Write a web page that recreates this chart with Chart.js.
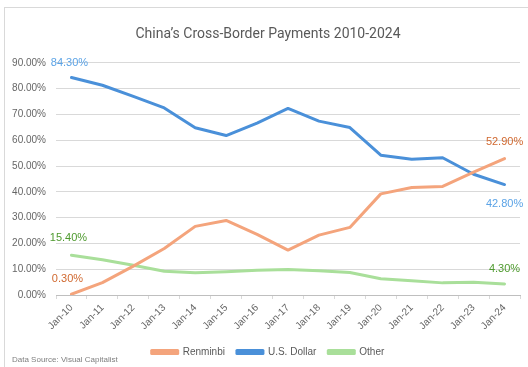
<!DOCTYPE html>
<html>
<head>
<meta charset="utf-8">
<script src="https://cdn.jsdelivr.net/npm/chart.js"></script>
<style>
  html, body { margin: 0; padding: 0; background: #fff; }
  #wrap { position: relative; width: 528px; height: 367px; overflow: hidden; }
  #frame { position: absolute; left: 4px; top: 7px; width: 600px; height: 400px; border: 1px solid #d9d9d9; }
  #chart { position: absolute; left: 0; top: 0; }
  #source { position: absolute; left: 12px; top: 355px; font: 8px "Liberation Sans", Arial, sans-serif; color: #7f7f7f; }
</style>
</head>
<body>
<div id="wrap">
  <div id="frame"></div>
  <canvas id="chart" width="536" height="367"></canvas>
  <div id="source">Data Source: Visual Capitalist</div>
</div>
<script>
// Chart data (percent of cross-border payments)
const labels = ["Jan-10", "Jan-11", "Jan-12", "Jan-13", "Jan-14", "Jan-15", "Jan-16", "Jan-17",
  "Jan-18", "Jan-19", "Jan-20", "Jan-21", "Jan-22", "Jan-23", "Jan-24"];
const renminbi = [0.3, 4.8, 11.2, 18.0, 26.6, 28.9, 23.5, 17.4, 23.2, 26.2, 39.2, 41.7, 42.1, 47.6, 52.9];
const usDollar = [84.3, 81.3, 77.0, 72.5, 64.8, 61.8, 66.6, 72.3, 67.4, 64.9, 54.2, 52.6, 53.2, 46.8, 42.8];
const other = [15.4, 13.7, 11.5, 9.2, 8.6, 9.0, 9.6, 9.9, 9.4, 8.7, 6.3, 5.5, 4.7, 4.9, 4.3];

const FONT = "'Liberation Sans', Arial, sans-serif";
const TITLE_FONT = "Roboto, 'Liberation Sans', sans-serif";

// first / last value labels
const endLabels = {
  id: "endLabels",
  afterDatasetsDraw(chart) {
    const ctx = chart.ctx;
    ctx.save();
    ctx.font = "11px " + FONT;
    ctx.textAlign = "center";
    ctx.textBaseline = "middle";
    chart.data.datasets.forEach((ds, i) => {
      const pts = chart.getDatasetMeta(i).data;
      const first = pts[0], last = pts[pts.length - 1];
      ctx.fillStyle = ds.labelColor;
      ctx.fillText(ds.data[0].toFixed(2) + "%", first.x + ds.firstOff[0], first.y + ds.firstOff[1]);
      ctx.fillText(ds.data[ds.data.length - 1].toFixed(2) + "%", last.x + ds.lastOff[0], last.y + ds.lastOff[1]);
    });
    ctx.restore();
  }
};

new Chart(document.getElementById("chart"), {
  type: "line",
  data: {
    labels: labels,
    datasets: [
      { label: "Renminbi", data: renminbi, borderColor: "#f4a47c", backgroundColor: "#f4a47c",
        labelColor: "#d0682f", firstOff: [-4, -15], lastOff: [0, -17] },
      { label: "U.S. Dollar", data: usDollar, borderColor: "#4a90d9", backgroundColor: "#4a90d9",
        labelColor: "#5ba3e6", firstOff: [-2, -15], lastOff: [0, 19] },
      { label: "Other", data: other, borderColor: "#a9df9a", backgroundColor: "#a9df9a",
        labelColor: "#4e9a2e", firstOff: [-3, -17], lastOff: [0, -15] }
    ]
  },
  options: {
    responsive: false,
    animation: false,
    layout: { padding: { top: 7, right: 0, bottom: 0, left: 0 } },
    elements: {
      line: { borderWidth: 3, tension: 0, borderCapStyle: "round", borderJoinStyle: "round" },
      point: { radius: 0 }
    },
    scales: {
      x: {
        offset: true,
        grid: { display: true, drawOnChartArea: false, drawTicks: true, tickLength: 4, color: "#d9d9d9", offset: true },
        border: { color: "#bfbfbf" },
        ticks: { color: "#666", font: { size: 10, family: FONT }, minRotation: 45, maxRotation: 45, padding: 3 },
        afterFit(scale) { scale.height = 40; }
      },
      y: {
        min: 0,
        max: 90,
        grid: { color: "#d9d9d9", drawTicks: false },
        border: { display: false },
        ticks: { stepSize: 10, color: "#666", font: { size: 10, family: FONT }, padding: 10,
          callback: v => v.toFixed(2) + "%" },
        afterFit(scale) { scale.width = 56; }
      },
      // empty right-hand spacer so the title and legend centre like the original
      spacer: {
        type: "linear",
        position: "right",
        grid: { display: false },
        border: { display: false },
        ticks: { display: false },
        afterFit(scale) { scale.width = 16; }
      }
    },
    plugins: {
      title: {
        display: true,
        text: "China\u2019s Cross-Border Payments 2010-2024",
        color: "#595959",
        font: { size: 14, weight: "normal", family: TITLE_FONT },
        padding: { top: 19, bottom: 20 }
      },
      legend: {
        position: "bottom",
        labels: { color: "#595959", font: { size: 10, family: FONT }, boxWidth: 26, boxHeight: 3, padding: 12 }
      },
      tooltip: { enabled: false }
    }
  },
  plugins: [endLabels]
});
</script>
</body>
</html>
